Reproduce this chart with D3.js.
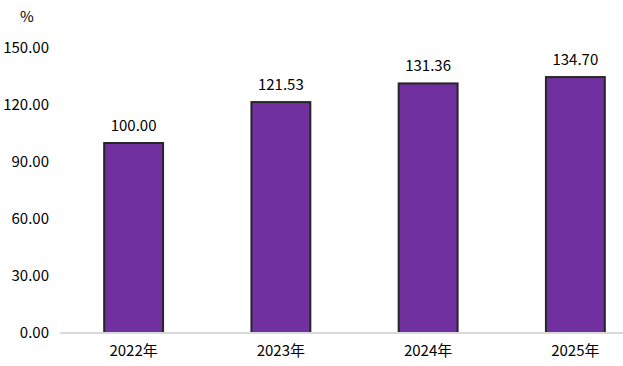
<!DOCTYPE html>
<html><head><meta charset="utf-8">
<script src="https://cdn.jsdelivr.net/npm/d3@7/dist/d3.min.js"></script>
<style>
body{margin:0;background:#fff;}
text{font-family:"Noto Sans CJK SC","Noto Sans",sans-serif;fill:#000;}
</style></head>
<body>
<svg id="c" width="623" height="366"></svg>
<script>
const categories = ["2022年","2023年","2024年","2025年"];
const values = [100.00,121.53,131.36,134.70];
const yTicks = [0,30,60,90,120,150];
const unitLabel = "%";

const svg = d3.select("#c");
const x = d3.scaleBand().domain(categories).range([60,649]).paddingInner(0.6).paddingOuter(0.3);
const y = d3.scaleLinear().domain([0,150]).range([333,48]);

// y tick labels
svg.append("g").selectAll("text").data(yTicks).join("text")
  .attr("x",49).attr("y",d=>y(d)).attr("dy","0.35em")
  .attr("text-anchor","end").attr("font-size",15)
  .text(d=>d3.format(".2f")(d));

svg.append("text").attr("x",27).attr("y",17).attr("dy","0.35em")
  .attr("text-anchor","middle").attr("font-size",15).text(unitLabel);

// bars
svg.append("g").selectAll("rect").data(values).join("rect")
  .attr("x",(d,i)=>x(categories[i]))
  .attr("y",d=>y(d))
  .attr("width",x.bandwidth())
  .attr("height",d=>y(0)-y(d))
  .attr("fill","#7030A0").attr("stroke","#262626").attr("stroke-width",2);

// axis line
svg.append("line").attr("x1",60).attr("x2",623).attr("y1",y(0)).attr("y2",y(0))
  .attr("stroke","#d9d9d9").attr("stroke-width",2);

// value labels
svg.append("g").selectAll("text").data(values).join("text")
  .attr("x",(d,i)=>x(categories[i])+x.bandwidth()/2)
  .attr("y",d=>y(d)-12)
  .attr("text-anchor","middle").attr("font-size",15)
  .text(d=>d3.format(".2f")(d));

// x labels
svg.append("g").selectAll("text").data(categories).join("text")
  .attr("x",d=>x(d)+x.bandwidth()/2)
  .attr("y",356)
  .attr("text-anchor","middle").attr("font-size",15)
  .text(d=>d);
</script>
</body></html>
